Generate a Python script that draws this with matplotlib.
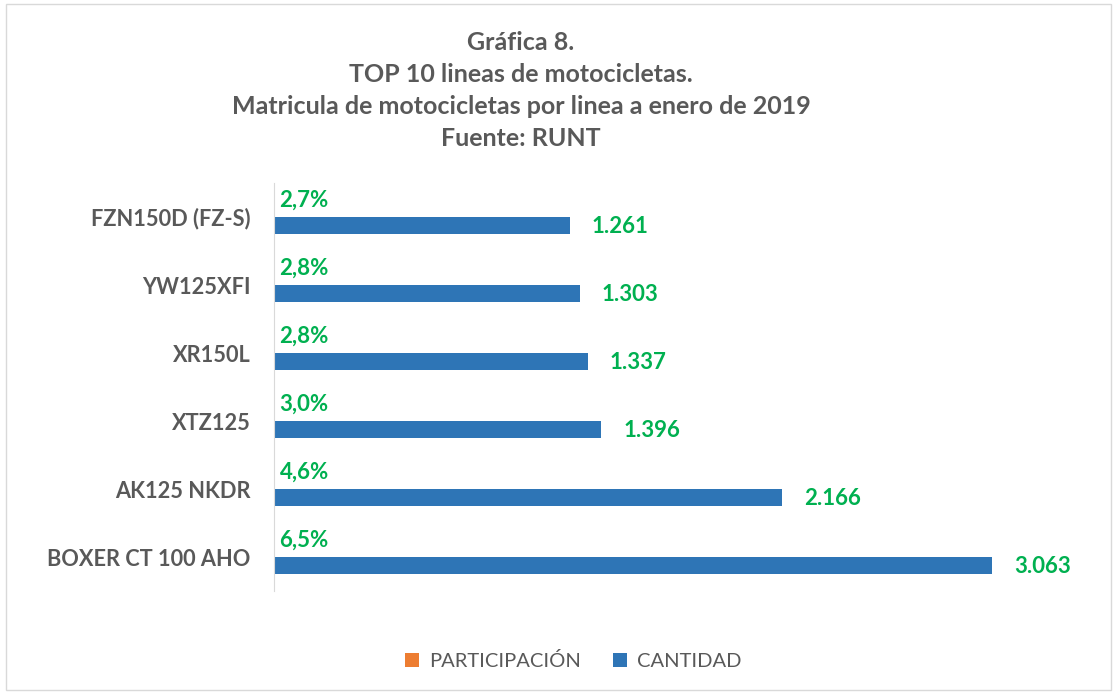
import matplotlib
matplotlib.use("Agg")
import matplotlib.pyplot as plt
import numpy as np
from matplotlib.patches import Rectangle

categories = ["BOXER CT 100 AHO", "AK125 NKDR", "XTZ125", "XR150L", "YW125XFI", "FZN150D (FZ-S)"]
cantidad = [3063, 2166, 1396, 1337, 1303, 1261]
participacion = [0.065, 0.046, 0.030, 0.028, 0.028, 0.027]
title_lines = ["Gráfica 8.", "TOP 10 lineas de motocicletas.",
               "Matricula de motocicletas por linea a enero de 2019", "Fuente: RUNT"]

BLUE = "#2E75B6"
ORANGE = "#ED7D31"
GREEN = "#00B050"
GRAY = "#595959"
FONT = "Lato"

W, H = 1117, 694
fig = plt.figure(figsize=(W / 100, H / 100), dpi=100)
fig.patch.set_facecolor("white")

# border
fig.patches.append(Rectangle((6 / W, 4 / H), (W - 12) / W, (H - 8) / H, transform=fig.transFigure,
                             fill=False, edgecolor="#D9D9D9", linewidth=1))

left, right, top, bottom = 274, 1095, 183, 591
ax = fig.add_axes([left / W, 1 - bottom / H, (right - left) / W, (bottom - top) / H])

y = np.arange(len(categories))
bh = 0.25
ax.barh(y + bh / 2, participacion, height=bh, color=ORANGE, label="PARTICIPACIÓN")
ax.barh(y - bh / 2, cantidad, height=bh, color=BLUE, label="CANTIDAD")

ax.set_xlim(0, 3500)
ax.set_ylim(-0.5, len(categories) - 0.5)
ax.set_xticks([])
ax.set_yticks(y)
ax.set_yticklabels(categories, fontsize=15.7, fontweight="bold", color=GRAY, family=FONT)
ax.tick_params(axis="y", length=0, pad=17)
for s in ["top", "right", "bottom"]:
    ax.spines[s].set_visible(False)
ax.spines["left"].set_color("#D9D9D9")

for yi, v in zip(y, cantidad):
    ax.annotate(f"{v:,}".replace(",", "."), (v, yi - bh / 2), xytext=(16, -1),
                textcoords="offset points", va="center", ha="left",
                fontsize=16, fontweight="bold", color=GREEN, family=FONT)
for yi, p in zip(y, participacion):
    ax.annotate(f"{p * 100:.1f}%".replace(".", ","), (0, yi + bh / 2), xytext=(4, 6),
                textcoords="offset points", va="center", ha="left",
                fontsize=16, fontweight="bold", color=GREEN, family=FONT)

ty = [43, 74, 106, 139]
for t, yy in zip(title_lines, ty):
    fig.text(521 / W, 1 - yy / H, t, ha="center", va="center", fontsize=18,
             fontweight="bold", color=GRAY, family=FONT)

handles, labels = ax.get_legend_handles_labels()
leg = fig.legend(handles, labels, loc="center", bbox_to_anchor=(573 / W, 1 - 661 / H),
                 ncol=2, frameon=False, handlelength=0.7, handleheight=0.7, handletextpad=0.5,
                 columnspacing=1.6, prop={"family": FONT, "size": 14.5})
for t in leg.get_texts():
    t.set_color(GRAY)

fig.savefig("out.png", dpi=100, facecolor="white")
